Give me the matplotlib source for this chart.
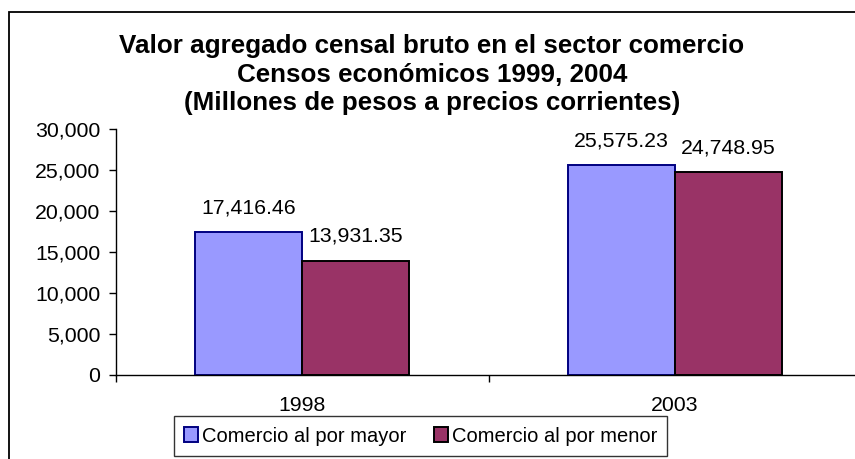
import matplotlib
matplotlib.use("Agg")
import matplotlib.pyplot as plt
import numpy as np
from matplotlib.patches import Rectangle

years = ["1998", "2003"]
mayor = [17416.46, 25575.23]
menor = [13931.35, 24748.95]
series_names = ["Comercio al por mayor", "Comercio al por menor"]
title_lines = [
    "Valor agregado censal bruto en el sector comercio",
    "Censos económicos 1999, 2004",
    "(Millones de pesos a precios corrientes)",
]

plt.rcParams["font.family"] = ["Liberation Sans", "DejaVu Sans"]
plt.rcParams["font.size"] = 15.3

W, H = 855, 459
fig = plt.figure(figsize=(W / 100, H / 100), dpi=100)
ax = fig.add_axes([115.5 / W, 1 - 375 / H, 746 / W, 246 / H])

# outer chart frame (cut off on the right and bottom like the original)
fig.patches.append(Rectangle((9 / W, -0.2), 1.2, 1.2 - 12 / H, transform=fig.transFigure,
                             fill=False, edgecolor="black", linewidth=1.3))

x = np.arange(len(years))
w = 1 / 3.5
b1 = ax.bar(x - w / 2, mayor, w, color="#9999FF", edgecolor="#000080", linewidth=1.4,
            label=series_names[0])
b2 = ax.bar(x + w / 2, menor, w, color="#993366", edgecolor="black", linewidth=1.4,
            label=series_names[1])

for bars in (b1, b2):
    for r in bars:
        v = r.get_height()
        ax.annotate(f"{v:,.2f}", (r.get_x() + r.get_width() / 2, v),
                    xytext=(0, 17.5), textcoords="offset points",
                    ha="center", va="center")

ax.set_xlim(-0.5, 1.5)
ax.set_ylim(0, 30000)
ax.set_yticks(np.arange(0, 30001, 5000))
ax.yaxis.set_major_formatter(matplotlib.ticker.FuncFormatter(lambda v, p: f"{v:,.0f}"))
ax.set_xticks([-0.5, 0.5, 1.5])
ax.set_xticklabels([])
ax.set_xticks(x, minor=True)
ax.set_xticklabels(years, minor=True)
ax.tick_params(axis="x", which="minor", length=0, pad=15)
ax.tick_params(axis="both", which="major", direction="out", length=5, width=1, color="black")
ax.tick_params(axis="y", pad=6)
for s in ("top", "right"):
    ax.spines[s].set_visible(False)
for s in ("left", "bottom"):
    ax.spines[s].set_linewidth(1)

for i, line in enumerate(title_lines):
    fig.text(432 / W, 1 - (46 + 28.5 * i) / H, line, ha="center", va="center",
             fontweight="bold", fontsize=18.7)

leg = fig.legend(loc="center", bbox_to_anchor=(420.5 / W, 1 - 436 / H), ncol=2,
                 frameon=True, fancybox=False, edgecolor="black", fontsize=14.5,
                 handlelength=0.7, handleheight=0.7, handletextpad=0.2,
                 columnspacing=1.35, borderpad=0.5, borderaxespad=0)
leg.get_frame().set_linewidth(1)

fig.savefig("out.png", dpi=100)
